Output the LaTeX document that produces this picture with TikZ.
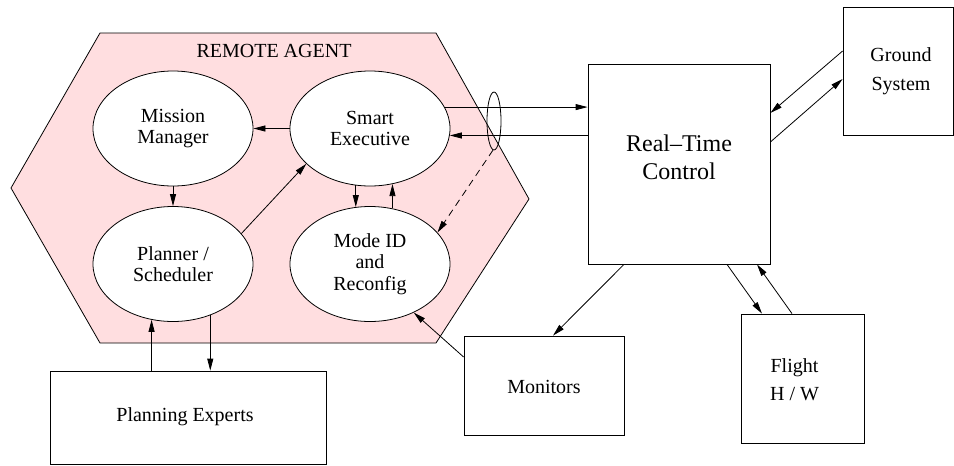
\documentclass[tikz,border=0pt]{standalone}
\usepackage{fontspec}
\setmainfont{Liberation Serif}
\usetikzlibrary{shapes.geometric,arrows.meta,calc}

\definecolor{agentpink}{RGB}{255,222,224}

\tikzset{
  conn/.style={line width=0.8pt,-{Triangle[length=12pt,width=6pt]}},
  dashconn/.style={conn,dash pattern=on 7pt off 5pt},
  module/.style={ellipse,draw,line width=0.8pt,fill=white,minimum width=160pt,
    minimum height=115pt,inner sep=0pt,align=center,
    font=\fontsize{20pt}{21.5pt}\selectfont},
  unitbox/.style={rectangle,draw,line width=0.8pt,fill=white,inner sep=0pt},
  boxtext/.style={align=center,font=\fontsize{20pt}{28.5pt}\selectfont},
}

\begin{document}
\begin{tikzpicture}[x=1pt,y=-1pt]
  \useasboundingbox (0,0) rectangle (954,466);

  % Remote agent boundary
  \draw[line width=0.8pt,fill=agentpink] (100,33) -- (436,33) -- (529,199)
    -- (436,343) -- (100,343) -- (11,188) -- cycle;
  \node[font=\fontsize{20pt}{22pt}\selectfont] (title) at (274,51) {REMOTE AGENT};

  % Agent modules
  \node[module] (MM)  at (173,128.5) {Mission\\Manager};
  \node[module] (SE)  at (370,128.5) {Smart\\Executive};
  \node[module] (PS)  at (173,264) {Planner /\\Scheduler};
  \node[module] (MID) at (370,264) {Mode ID\\and\\Reconfig};

  % External units
  \node[unitbox,minimum width=182pt,minimum height=200pt,
    label={[boxtext,font=\fontsize{24pt}{27.7pt}\selectfont,yshift=7pt]center:Real--Time\\Control}]
    (RTC) at (679,164) {};
  \node[unitbox,minimum width=110pt,minimum height=128pt,
    label={[boxtext,xshift=3pt]center:Ground\\System}]
    (GS) at (898,71) {};
  \node[unitbox,minimum width=123pt,minimum height=129pt,
    label={[boxtext,xshift=-8pt,yshift=-1pt]center:Flight\\H / W}]
    (FHW) at (802.5,378.5) {};
  \node[unitbox,minimum width=160pt,minimum height=99pt,
    label={[boxtext,yshift=-1pt]center:Monitors}]
    (MON) at (544,385.5) {};
  \node[unitbox,minimum width=276pt,minimum height=93pt,
    label={[boxtext,xshift=-3pt,yshift=1pt]center:Planning Experts}]
    (PE) at (188,417.5) {};

  % Bundle of links between executive and real-time control
  \node[ellipse,draw,line width=0.8pt,minimum width=14pt,minimum height=58pt,inner sep=0pt]
    (bundle) at (494,121) {};

  % Links inside the agent
  \draw[conn] (SE.west) -- (MM.east);
  \draw[conn] (MM.south) -- (PS.north);
  \draw[conn] (PS.24) -- (SE.209);
  \draw[conn] (SE.256) -- (MID.104);
  \draw[conn] (MID.68) -- (SE.292);

  % Links to the real-time control
  \draw[conn] (SE.16) -- (SE.16 -| RTC.west);
  \draw[conn] (SE.-5 -| RTC.west) -- (SE.-5);
  \draw[dashconn] (bundle.268) -- (MID.25);

  % Links to ground and flight hardware
  \draw[conn] ([yshift=20pt]GS.west) -- ([yshift=51pt]RTC.east);
  \draw[conn] ([yshift=22pt]RTC.east) -- ([yshift=-8pt]GS.west);
  \draw[conn] ([xshift=48pt]RTC.south) -- ([xshift=-40.5pt]FHW.north);
  \draw[conn] ([xshift=-10.5pt]FHW.north) -- ([xshift=78pt]RTC.south);

  % Monitors
  \draw[conn] ([xshift=-55pt]RTC.south) -- ([xshift=9pt]MON.north);
  \draw[conn] ([yshift=28.5pt]MON.west) -- (MID.-48);

  % Planning experts
  \draw[conn] (PS.249 |- PE.north) -- (PS.249);
  \draw[conn] (PS.306) -- (PS.306 |- PE.north);
\end{tikzpicture}
\end{document}
